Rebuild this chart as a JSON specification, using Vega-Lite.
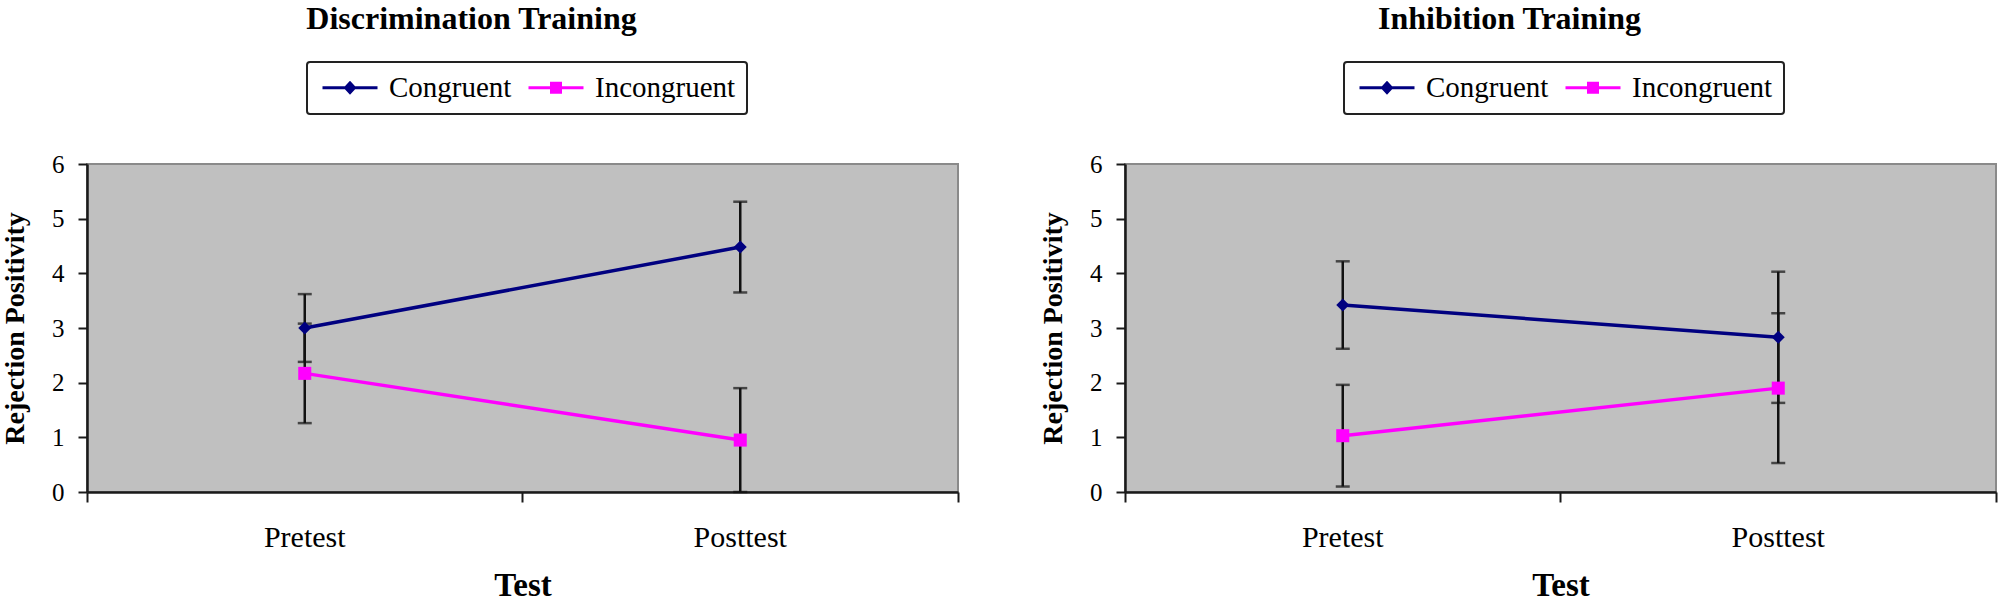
{
  "$schema": "https://vega.github.io/schema/vega-lite/v6.json",
  "padding": {"left": 0, "top": 2, "right": 0, "bottom": 0},
  "background": "white",
  "data": {"values": [
    {"Training": "Discrimination Training", "Test": "Pretest", "Condition": "Congruent", "Mean": 3.0, "SE": 0.62},
    {"Training": "Discrimination Training", "Test": "Posttest", "Condition": "Congruent", "Mean": 4.48, "SE": 0.83},
    {"Training": "Discrimination Training", "Test": "Pretest", "Condition": "Incongruent", "Mean": 2.17, "SE": 0.91},
    {"Training": "Discrimination Training", "Test": "Posttest", "Condition": "Incongruent", "Mean": 0.95, "SE": 0.95},
    {"Training": "Inhibition Training", "Test": "Pretest", "Condition": "Congruent", "Mean": 3.42, "SE": 0.8},
    {"Training": "Inhibition Training", "Test": "Posttest", "Condition": "Congruent", "Mean": 2.83, "SE": 1.2},
    {"Training": "Inhibition Training", "Test": "Pretest", "Condition": "Incongruent", "Mean": 1.03, "SE": 0.93},
    {"Training": "Inhibition Training", "Test": "Posttest", "Condition": "Incongruent", "Mean": 1.9, "SE": 1.37}
  ]},
  "config": {
    "font": "Liberation Serif",
    "view": {"stroke": "#8a8a8a", "strokeWidth": 2, "fill": "#C0C0C0"},
    "axis": {"domainColor": "#1a1a1a", "domainWidth": 2.5, "tickColor": "#1a1a1a", "tickWidth": 2, "labelColor": "#000000", "titleColor": "#000000", "labelFont": "Liberation Serif", "titleFont": "Liberation Serif", "grid": false}
  },
  "spacing": 78,
  "resolve": {"scale": {"color": "independent"}, "legend": {"color": "independent"}},
  "hconcat": [
    {
      "width": 871, "height": 328,
      "title": {"text": "Discrimination Training", "font": "Liberation Serif", "fontSize": 32, "fontWeight": "bold", "anchor": "middle", "dx": -51, "offset": 25, "color": "#000000"},
      "transform": [{"filter": "datum.Training === 'Discrimination Training'"}],
      "encoding": {
        "x": {"field": "Test", "type": "nominal", "sort": ["Pretest", "Posttest"], "scale": {"type": "band", "paddingInner": 0, "paddingOuter": 0},
          "axis": {"title": "Test", "titleFontSize": 33, "titleFontWeight": "bold", "labelFontSize": 30, "labelAngle": 0, "bandPosition": 1, "tickExtra": true, "tickSize": 10, "labelPadding": 20, "titlePadding": 17}}
      },
      "layer": [
        {"mark": {"type": "errorbar", "ticks": {"size": 14, "thickness": 2.5, "color": "#111111"}, "thickness": 2.5, "color": "#111111"},
          "encoding": {"y": {"field": "Mean", "type": "quantitative", "scale": {"domain": [0, 6]},
            "axis": {"title": "Rejection Positivity", "titleFontSize": 28, "titleFontWeight": "bold", "labelFontSize": 25, "format": "d", "values": [0, 1, 2, 3, 4, 5, 6], "tickSize": 9, "labelPadding": 14, "titlePadding": 22}},
            "yError": {"field": "SE"}}},
        {"mark": {"type": "line", "strokeWidth": 3.5},
          "encoding": {"y": {"field": "Mean", "type": "quantitative"},
            "color": {"field": "Condition", "type": "nominal", "scale": {"domain": ["Congruent", "Incongruent"], "range": ["#000080", "#FF00FF"]},
              "legend": {"orient": "none", "legendX": 220, "legendY": -102, "direction": "horizontal", "title": null, "labelFont": "Liberation Serif", "labelFontSize": 29, "labelColor": "#000000", "symbolSize": 400, "symbolOffset": 17.5, "labelOffset": 24.5, "columnPadding": 12, "padding": 11, "strokeColor": "#222222", "fillColor": "#ffffff", "cornerRadius": 3,
                "encode": {"legend": {"update": {"strokeWidth": {"value": 2}}},
                  "symbols": {"update": {
                    "shape": {"signal": "datum.value === 'Congruent' ? 'M-2.75,-0.15H2.75V0.15H-2.75ZM-0.65,0L0,-0.7L0.65,0L0,0.7Z' : 'M-2.75,-0.15H2.75V0.15H-2.75ZM-0.6,-0.6H0.6V0.6H-0.6Z'"},
                    "fill": {"signal": "datum.value === 'Congruent' ? '#000080' : '#FF00FF'"},
                    "strokeWidth": {"value": 0}, "opacity": {"value": 1}, "fillOpacity": {"value": 1}}}}}}}},
        {"transform": [{"filter": "datum.Condition === 'Congruent'"}],
          "mark": {"type": "point", "filled": true, "opacity": 1, "size": 170, "shape": "diamond", "color": "#000080"},
          "encoding": {"y": {"field": "Mean", "type": "quantitative"}}},
        {"transform": [{"filter": "datum.Condition === 'Incongruent'"}],
          "mark": {"type": "point", "filled": true, "opacity": 1, "size": 170, "shape": "square", "color": "#FF00FF"},
          "encoding": {"y": {"field": "Mean", "type": "quantitative"}}}
      ]
    },
    {
      "width": 871, "height": 328,
      "title": {"text": "Inhibition Training", "font": "Liberation Serif", "fontSize": 32, "fontWeight": "bold", "anchor": "middle", "dx": -51, "offset": 25, "color": "#000000"},
      "transform": [{"filter": "datum.Training === 'Inhibition Training'"}],
      "encoding": {
        "x": {"field": "Test", "type": "nominal", "sort": ["Pretest", "Posttest"], "scale": {"type": "band", "paddingInner": 0, "paddingOuter": 0},
          "axis": {"title": "Test", "titleFontSize": 33, "titleFontWeight": "bold", "labelFontSize": 30, "labelAngle": 0, "bandPosition": 1, "tickExtra": true, "tickSize": 10, "labelPadding": 20, "titlePadding": 17}}
      },
      "layer": [
        {"mark": {"type": "errorbar", "ticks": {"size": 14, "thickness": 2.5, "color": "#111111"}, "thickness": 2.5, "color": "#111111"},
          "encoding": {"y": {"field": "Mean", "type": "quantitative", "scale": {"domain": [0, 6]},
            "axis": {"title": "Rejection Positivity", "titleFontSize": 28, "titleFontWeight": "bold", "labelFontSize": 25, "format": "d", "values": [0, 1, 2, 3, 4, 5, 6], "tickSize": 9, "labelPadding": 14, "titlePadding": 22}},
            "yError": {"field": "SE"}}},
        {"mark": {"type": "line", "strokeWidth": 3.5},
          "encoding": {"y": {"field": "Mean", "type": "quantitative"},
            "color": {"field": "Condition", "type": "nominal", "scale": {"domain": ["Congruent", "Incongruent"], "range": ["#000080", "#FF00FF"]},
              "legend": {"orient": "none", "legendX": 219, "legendY": -102, "direction": "horizontal", "title": null, "labelFont": "Liberation Serif", "labelFontSize": 29, "labelColor": "#000000", "symbolSize": 400, "symbolOffset": 17.5, "labelOffset": 24.5, "columnPadding": 12, "padding": 11, "strokeColor": "#222222", "fillColor": "#ffffff", "cornerRadius": 3,
                "encode": {"legend": {"update": {"strokeWidth": {"value": 2}}},
                  "symbols": {"update": {
                    "shape": {"signal": "datum.value === 'Congruent' ? 'M-2.75,-0.15H2.75V0.15H-2.75ZM-0.65,0L0,-0.7L0.65,0L0,0.7Z' : 'M-2.75,-0.15H2.75V0.15H-2.75ZM-0.6,-0.6H0.6V0.6H-0.6Z'"},
                    "fill": {"signal": "datum.value === 'Congruent' ? '#000080' : '#FF00FF'"},
                    "strokeWidth": {"value": 0}, "opacity": {"value": 1}, "fillOpacity": {"value": 1}}}}}}}},
        {"transform": [{"filter": "datum.Condition === 'Congruent'"}],
          "mark": {"type": "point", "filled": true, "opacity": 1, "size": 170, "shape": "diamond", "color": "#000080"},
          "encoding": {"y": {"field": "Mean", "type": "quantitative"}}},
        {"transform": [{"filter": "datum.Condition === 'Incongruent'"}],
          "mark": {"type": "point", "filled": true, "opacity": 1, "size": 170, "shape": "square", "color": "#FF00FF"},
          "encoding": {"y": {"field": "Mean", "type": "quantitative"}}}
      ]
    }
  ]
}
